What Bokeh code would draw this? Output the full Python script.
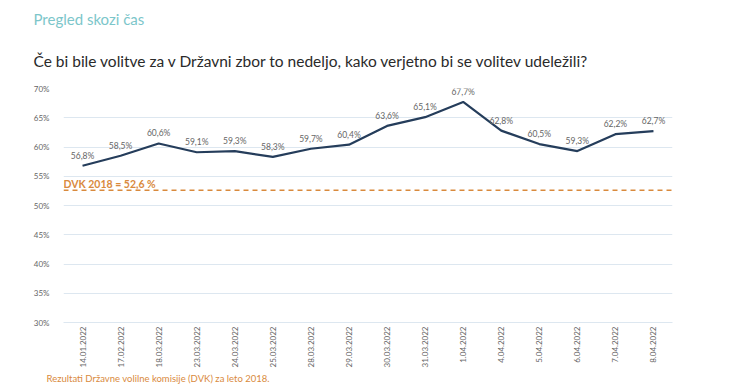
from bokeh.plotting import figure
from bokeh.models import ColumnDataSource, FactorRange, Range1d, Span, Label, Title
from bokeh.core.properties import value
from bokeh.embed import file_html
from bokeh.resources import INLINE

dates = ["14.01.2022", "17.02.2022", "18.03.2022", "23.03.2022", "24.03.2022",
         "25.03.2022", "28.03.2022", "29.03.2022", "30.03.2022", "31.03.2022",
         "1.04.2022", "4.04.2022", "5.04.2022", "6.04.2022", "7.04.2022", "8.04.2022"]
turnout = [56.8, 58.5, 60.6, 59.1, 59.3, 58.3, 59.7, 60.4, 63.6, 65.1,
           67.7, 62.8, 60.5, 59.3, 62.2, 62.7]
y_ticks = [30, 35, 40, 45, 50, 55, 60, 65, 70]
dvk_2018 = 52.6

title_top = "Pregled skozi čas"
title_main = "Če bi bile volitve za v Državni zbor to nedeljo, kako verjetno bi se volitev udeležili?"
dvk_text = "DVK 2018 = 52,6 %"
footer_text = "Rezultati Državne volilne komisije (DVK) za leto 2018."

FONT = "Lato"
ORANGE = "#d98a3d"
NAVY = "#253d5b"

labels = [f"{v:.1f}%".replace(".", ",") for v in turnout]
src = ColumnDataSource(dict(x=dates, y=turnout, lab=labels))

FL, FT, FB = 63, 88, 322  # frame left/top/bottom in page pixels

p = figure(width=736, height=390, output_backend="svg", toolbar_location=None,
           x_range=FactorRange(*dates, range_padding=0),
           y_range=Range1d(30, 70))
p.min_border_left = FL
p.min_border_right = 64
p.min_border_top = FT
p.min_border_bottom = 390 - FB
p.outline_line_color = None
p.background_fill_color = "white"
p.border_fill_color = "white"

p.xgrid.grid_line_color = None
p.ygrid.grid_line_color = "#dde7f0"
p.ygrid.grid_line_width = 1
p.yaxis.ticker = y_ticks
p.yaxis.major_label_overrides = {t: f"{t}%" for t in y_ticks}
p.yaxis.axis_line_color = None
p.yaxis.major_tick_line_color = None
p.yaxis.minor_tick_line_color = None
p.yaxis.major_label_text_font = FONT
p.yaxis.major_label_text_font_size = "8px"
p.yaxis.major_label_text_color = "#666666"
p.yaxis.major_label_standoff = 8

p.xaxis.axis_line_color = "#dde7f0"
p.xaxis.major_tick_line_color = None
p.xaxis.major_tick_out = 0
p.xaxis.major_label_orientation = 1.5708
p.xaxis.major_label_text_font = FONT
p.xaxis.major_label_text_font_size = "8px"
p.xaxis.major_label_text_color = "#666666"
p.xaxis.major_label_standoff = 4

p.add_layout(Span(location=dvk_2018, dimension="width", line_color=ORANGE,
                  line_width=1.5, line_dash="5 4"))

p.line("x", "y", source=src, line_color=NAVY, line_width=2.2)
p.text("x", "y", text="lab", source=src, y_offset=-10, text_align="center",
       text_baseline="middle", text_font=value(FONT), text_font_size="8.5px",
       text_color="#666666")

p.add_layout(Label(x=0.0, y=53.75, text=dvk_text, text_font=FONT,
                   text_font_size="10.5px", text_font_style="bold",
                   text_color=ORANGE, text_baseline="middle"))

# titles / footer as panel titles (not clipped by the frame)
p.add_layout(Title(text=title_main, align="left", offset=33 - FL,
                   text_font=FONT, text_font_size="15.5px",
                   text_font_style="normal", text_color="#2a2a2a",
                   standoff=38), "above")
p.add_layout(Title(text=title_top, align="left", offset=33 - FL,
                   text_font=FONT, text_font_size="15px",
                   text_font_style="normal", text_color="#7cc6ca",
                   standoff=5), "above")
p.add_layout(Title(text=footer_text, align="left", offset=46 - FL,
                   text_font=FONT, text_font_size="9.5px",
                   text_font_style="normal", text_color=ORANGE,
                   standoff=0), "below")

open("out.html", "w").write(file_html(p, INLINE))
